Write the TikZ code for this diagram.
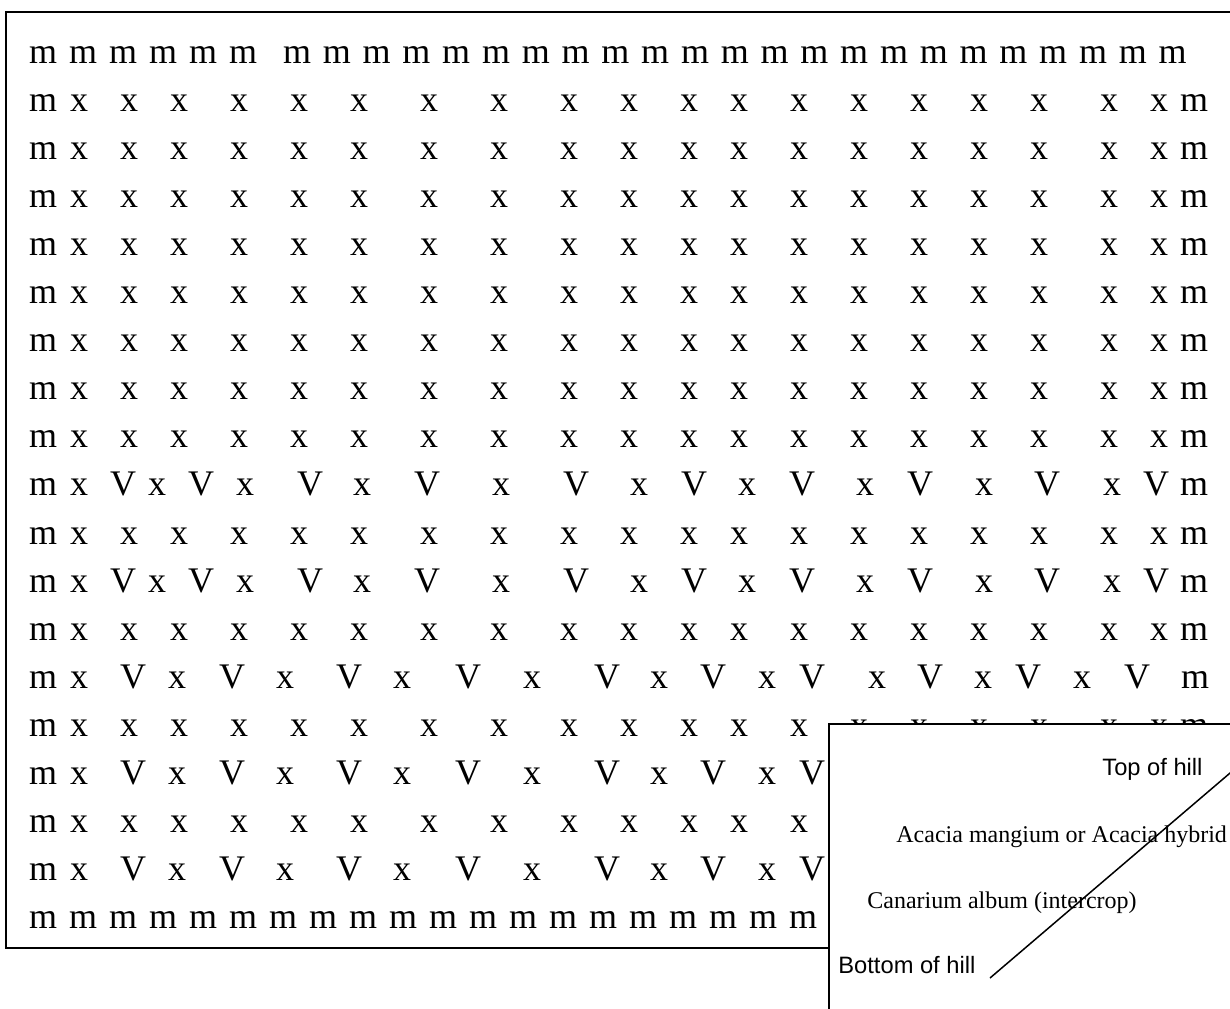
\documentclass[tikz,border=0pt]{standalone}
\usepackage{fontspec}
\setmainfont{Liberation Serif}
\setsansfont{Liberation Sans}

\begin{document}
\begin{tikzpicture}[x=0.5pt,y=-0.5pt,
  letter/.style={inner sep=0pt, anchor=base, font=\fontsize{18}{20}\selectfont},
  frame/.style={draw=black, line width=1pt},
  legendtext/.style={inner sep=0pt, anchor=base west, font=\fontsize{12}{14}\selectfont},
  hilltext/.style={inner sep=0pt, anchor=base west, font=\sffamily\fontsize{11.85}{14}\selectfont}]

% Area del disegno
\useasboundingbox (0,0) rectangle (1230,1008);
\clip (0,0) rectangle (1230,1008);

% Linea di base della prima riga e passo fra le righe
\def\yb{63}
\def\dy{48.1}

% Cornice
\draw[frame] (6,12) rectangle (1245,948);

% Riga superiore di m
\foreach \k in {0,...,5}
  \node[letter] (mtop-a\k) at (43+40*\k,\yb) {m};
\foreach \k in {0,...,22}
  \node[letter] (mtop-b\k) at (297+39.8*\k,\yb) {m};

% Righe di x
\foreach \r in {1,...,8,10,12,14,16} {
  \node[letter] (ml-\r) at (43,\yb+\dy*\r) {m};
  \foreach \c [count=\k] in {79,129,179,239,299,359,429,499,569,629,689,739,799,859,919,979,1039,1109,1159}
    \node[letter] (x-\r-\k) at (\c,\yb+\dy*\r) {x};
  \node[letter] (mr-\r) at (1194,\yb+\dy*\r) {m};
}

% Righe con V (primo tipo)
\foreach \r in {9,11} {
  \node[letter] (ml-\r) at (43,\yb+\dy*\r) {m};
  \foreach \t/\c [count=\k] in {x/79,V/123,x/157,V/201,x/245,V/310,x/362,V/427,x/501,V/576,x/639,V/694,x/747,V/802,x/865,V/920,x/984,V/1047,x/1112,V/1156}
    \node[letter] (va-\r-\k) at (\c,\yb+\dy*\r) {\t};
  \node[letter] (mr-\r) at (1194,\yb+\dy*\r) {m};
}

% Righe con V (secondo tipo)
\foreach \r in {13,15,17} {
  \node[letter] (ml-\r) at (43,\yb+\dy*\r) {m};
  \foreach \t/\c [count=\k] in {x/79,V/133,x/177,V/232,x/285,V/349,x/402,V/468,x/532,V/607,x/659,V/713,x/767,V/812,x/877,V/930,x/983,V/1028,x/1082,V/1137}
    \node[letter] (vb-\r-\k) at (\c,\yb+\dy*\r) {\t};
  \node[letter] (mr-\r) at (1195,\yb+\dy*\r) {m};
}

% Riga inferiore di m
\foreach \k in {0,...,28}
  \node[letter] (mbot-\k) at (43+40*\k,\yb+\dy*18) {m};

% Legenda
\draw[frame, fill=white] (829,724) rectangle (1245,1020);
\node[hilltext] (top) at (1102,775) {Top of hill};
\node[legendtext] (acacia) at (896,842) {Acacia mangium or Acacia hybrid};
\node[legendtext] (canarium) at (867,908) {Canarium album (intercrop)};
\node[hilltext] (bottom) at (838,973) {Bottom of hill};

% Pendenza
\coordinate (slope-low) at (990,978);
\coordinate (slope-high) at (1240,764.5);
\draw[line width=0.75pt] (slope-low) -- (slope-high);
\end{tikzpicture}
\end{document}
